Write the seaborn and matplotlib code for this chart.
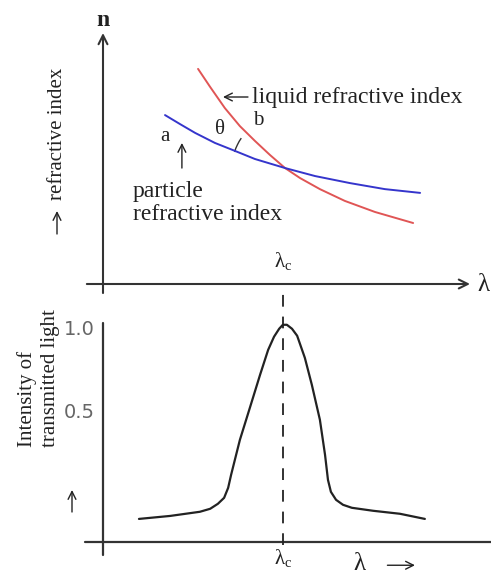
import matplotlib
matplotlib.use("Agg")
import matplotlib.pyplot as plt
from matplotlib.patches import Arc
import seaborn as sns

sns.set_style("white")
plt.rcParams['font.family'] = ['Liberation Serif', 'DejaVu Serif']
plt.rcParams['mathtext.fontset'] = 'custom'
plt.rcParams['mathtext.rm'] = 'Liberation Serif'

# wavelength (arb. units) and refractive index readings, top panel
lam_liquid = [2.59, 2.92, 3.32, 3.73, 4.14, 4.55, 4.96, 5.37, 5.91, 6.59, 7.41, 8.45]
n_liquid = [8.57, 7.85, 7.01, 6.29, 5.70, 5.14, 4.62, 4.22, 3.78, 3.31, 2.87, 2.43]
lam_particle = [1.69, 2.10, 2.51, 3.05, 3.60, 4.14, 4.96, 5.78, 6.73, 7.68, 8.64]
n_particle = [6.73, 6.37, 6.02, 5.62, 5.30, 4.98, 4.62, 4.30, 4.02, 3.78, 3.63]

# transmitted intensity, bottom panel
lam_T = [0.98, 1.83, 2.64, 2.92, 3.13, 3.30, 3.41, 3.49, 3.73, 4.01, 4.28, 4.50,
         4.66, 4.80, 4.90, 5.01, 5.15, 5.29, 5.50, 5.69, 5.91, 6.05, 6.13, 6.21,
         6.35, 6.54, 6.78, 7.36, 8.09, 8.77]
intensity = [-0.151, -0.133, -0.108, -0.090, -0.060, -0.024, 0.036, 0.114, 0.325,
             0.524, 0.717, 0.867, 0.946, 0.994, 1.018, 1.018, 0.994, 0.952, 0.819,
             0.657, 0.446, 0.235, 0.084, 0.012, -0.036, -0.066, -0.084, -0.102,
             -0.120, -0.151]

lam_c = 4.90
ytick_vals = [0.5, 1.0]
ytick_labels = ["0.5", "1.0"]

W, H = 491, 575
fig = plt.figure(figsize=(W / 100, H / 100), dpi=100)


def px_axes(left, right, top, bottom):
    return fig.add_axes([left / W, 1 - bottom / H, (right - left) / W, (bottom - top) / H])


axc = '#333333'
txt = '#222222'
arrow_kw = dict(arrowstyle='->', lw=1.5, color=axc, mutation_scale=16, shrinkA=0, shrinkB=0)
small_arrow = dict(arrowstyle='->', lw=1.0, color=txt, mutation_scale=14, shrinkA=0, shrinkB=0)

# ---------------- top panel ----------------
ax1 = px_axes(103, 470, 33, 284)
ax1.set_xlim(0, 10)
ax1.set_ylim(0, 10)
sns.lineplot(x=lam_liquid, y=n_liquid, ax=ax1, color='#e05555', lw=1.4)
sns.lineplot(x=lam_particle, y=n_particle, ax=ax1, color='#3535cc', lw=1.4)
sns.despine(ax=ax1, left=True, bottom=True)
ax1.set_yticks([])
ax1.set_xticks([lam_c], [''])
ax1.tick_params(axis='x', direction='in', length=8, width=1.4, color=axc)

ax1.annotate('', xy=(0, 10), xytext=(0, -0.36), arrowprops=arrow_kw, annotation_clip=False)
ax1.annotate('', xy=(10, 0), xytext=(-0.44, 0), arrowprops=arrow_kw, annotation_clip=False)

ax1.text(0, 10.48, 'n', fontsize=17, fontweight='bold', ha='center', va='center', color=txt)
ax1.text(10.2, -0.05, 'λ', fontsize=18, ha='left', va='center', color=txt)
ax1.text(lam_c, 0.45, r'λ$_\mathrm{c}$', fontsize=15, ha='center', va='bottom', color=txt)

# angle between the curves
ax1.add_patch(Arc((4.96, 4.62), 2 * 53 / 36.7, 2 * 53 / 25.1, theta1=135, theta2=155,
                  color='#333', lw=1.0))
ax1.text(3.19, 6.14, 'θ', fontsize=15, ha='center', va='center', color=txt)
ax1.text(1.69, 5.86, 'a', fontsize=15, ha='center', va='center', color=txt)
ax1.text(4.22, 6.53, 'b', fontsize=15, ha='center', va='center', color=txt)
ax1.annotate('', xy=(3.27, 7.45), xytext=(3.95, 7.45), arrowprops=small_arrow,
             annotation_clip=False)
ax1.text(4.06, 7.45, 'liquid refractive index', fontsize=17, ha='left', va='center',
         color=txt)
ax1.annotate('', xy=(2.15, 5.62), xytext=(2.15, 4.62), arrowprops=small_arrow)
ax1.text(0.82, 3.23, 'particle\nrefractive index', fontsize=17, ha='left', va='center',
         linespacing=1.15, color=txt)

fig.text(57 / W, 1 - 134 / H, 'refractive index', rotation=90, fontsize=15,
         ha='center', va='center', color=txt)
ax1.annotate('', xy=(57, H - 211), xytext=(57, H - 234), xycoords='figure pixels',
             textcoords='figure pixels', arrowprops=small_arrow)

# ---------------- bottom panel ----------------
ax2 = px_axes(103, 470, 310, 542)
ax2.set_xlim(0, 10)
ax2.set_ylim(-0.29, 1.107)
sns.lineplot(x=lam_T, y=intensity, ax=ax2, color='#222222', lw=1.6)
sns.despine(ax=ax2, left=True, bottom=True)
ax2.set_xticks([])
ax2.set_yticks(ytick_vals, ytick_labels)
ax2.tick_params(axis='y', direction='in', length=8, width=1.4, color=axc, pad=6,
                labelsize=14, labelcolor='#666666')
for lbl in ax2.get_yticklabels():
    lbl.set_fontfamily('DejaVu Sans')

ax2.plot([0, 0], [-0.37, 1.03], color=axc, lw=1.6, clip_on=False)
ax2.plot([-0.49, 10.6], [-0.29, -0.29], color=axc, lw=1.6, clip_on=False)
ax2.plot([lam_c, lam_c], [-0.31, 1.23], color='#222', lw=1.3, ls=(0, (6.5, 5.5)),
         clip_on=False)

ax2.text(lam_c, -0.39, r'λ$_\mathrm{c}$', fontsize=15, ha='center', va='center', color=txt)
ax2.text(6.98, -0.425, 'λ', fontsize=18, ha='center', va='center', color=txt)
ax2.annotate('', xy=(8.5, -0.43), xytext=(7.75, -0.43), arrowprops=small_arrow,
             annotation_clip=False)

fig.text(27 / W, 1 - 447 / H, 'Intensity of', rotation=90, fontsize=15,
         ha='center', va='bottom', color=txt)
fig.text(50 / W, 1 - 447 / H, 'transmitted light', rotation=90, fontsize=15,
         ha='center', va='bottom', color=txt)
ax2.annotate('', xy=(72, H - 490), xytext=(72, H - 512), xycoords='figure pixels',
             textcoords='figure pixels', arrowprops=small_arrow)

fig.savefig('out.png', dpi=100)
